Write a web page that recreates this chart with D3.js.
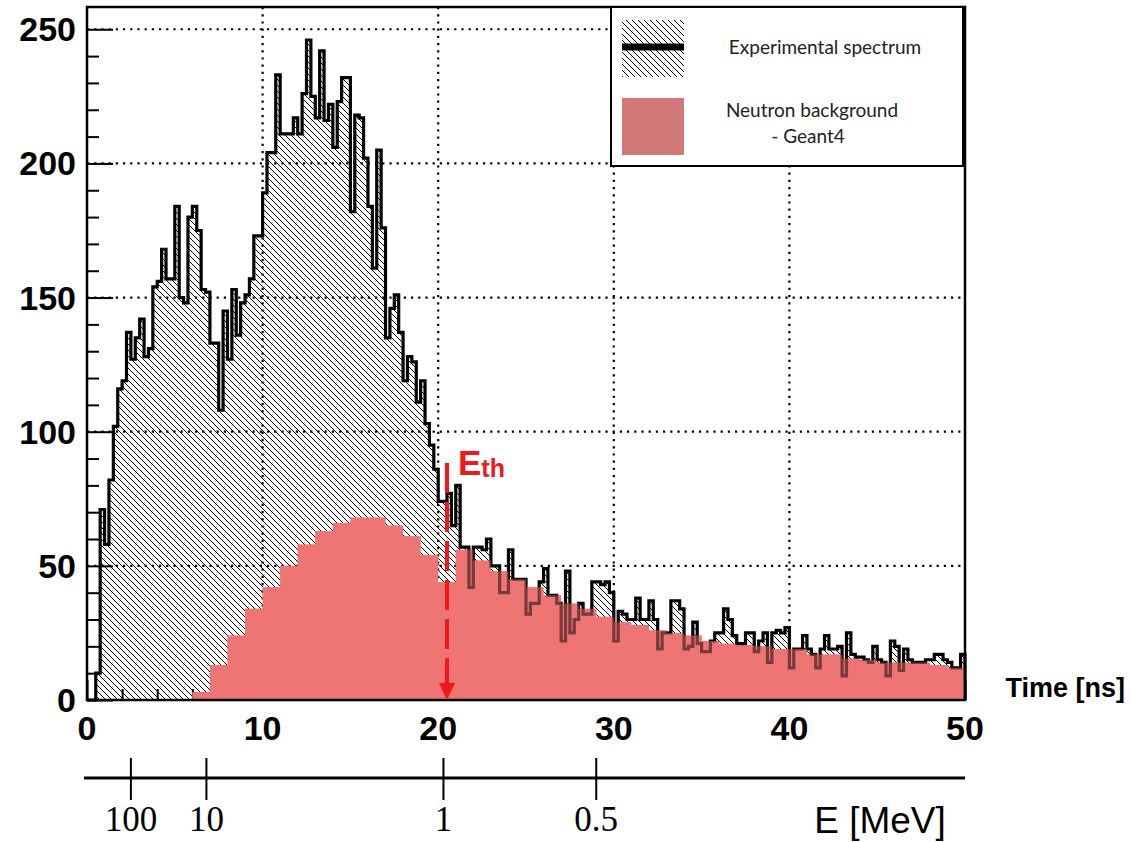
<!DOCTYPE html>
<html>
<head>
<meta charset="utf-8">
<script src="https://cdn.jsdelivr.net/npm/d3@7"></script>
<style>
  body { margin: 0; background: #fff; }
  svg { display: block; }
</style>
</head>
<body>
<svg id="chart" width="1131" height="842"></svg>
<script>
// experimental spectrum, 0.25 ns bins starting at 0 ns
var expWidth = 0.25;
var expCounts = [
  0, 0, 10, 71, 58, 82, 102, 116, 119, 137, 127, 135, 142, 128, 131, 154, 156,
  168, 157, 157, 184, 150, 148, 180, 184, 175, 153, 152, 133, 133, 108, 145, 127, 153, 136, 148, 151, 157,
  173, 173, 189, 204, 204, 233, 211, 211, 211, 217, 211, 226, 246, 225, 217, 242, 216, 222, 206, 223,
  232, 232, 182, 218, 217, 202, 184, 161, 205, 176, 135, 146, 151, 137, 119, 128, 126, 111, 119, 103, 95, 86, 74,
  74, 77, 65, 80, 57, 57, 42, 57, 57, 56, 60, 50, 50, 40, 40, 56, 45, 45, 45, 32, 36, 36, 44, 49, 39,
  39, 36, 22, 48, 25, 30, 36, 32, 32, 44, 44, 43,
  44, 40, 22, 33, 32, 30, 30, 38, 30, 30, 37, 30, 19, 25, 25, 37, 37, 34, 19, 20, 29, 21, 18, 18, 22,
  25, 25, 34, 30, 24, 21, 21, 25, 25, 18, 22, 25, 14, 25, 26, 25,
  27, 12, 19, 19, 24, 19, 17, 12, 19, 24, 19, 19, 20, 9, 25, 17, 16, 16, 15, 14, 20, 15, 14, 9, 22,
  20, 11, 19, 15, 14, 14, 14, 15, 15, 17, 17, 15, 14, 12, 12, 17
];

// Geant4 neutron background, 1 ns bins starting at 6 ns
var bkgStart = 6;
var bkgWidth = 1;
var bkgCounts = [
  3, 13, 24, 34, 42, 50, 58, 63, 66, 68, 68, 65, 61, 54,
  44, 56, 52, 48, 45, 42, 39, 36, 34, 31,
  29, 28, 26, 25, 24, 22, 21, 20.5, 20, 19,
  19, 17, 17, 15.5, 15, 14, 14, 14, 13, 12
];

var yTicks = [0, 50, 100, 150, 200, 250];
var xTicks = [0, 10, 20, 30, 40, 50];
// energy axis: tick label and its time of flight
var eLabels = ["100", "10", "1", "0.5"];
var eTimes = [2.5, 6.8, 20.3, 29.0];
var eth = 20.5;

var svg = d3.select("#chart");

var yMax = 1.05 * d3.max(expCounts);
var x = d3.scaleLinear().domain([0, 50]).range([87, 965]);
var y = d3.scaleLinear().domain([0, yMax]).range([700, 7]);

function stepPoints(counts, start, width) {
    var pts = [[start, 0]];
    counts.forEach(function(c, i) {
        pts.push([start + i * width, c]);
        pts.push([start + (i + 1) * width, c]);
    });
    pts.push([start + counts.length * width, 0]);
    return pts;
}

var line = d3.line().x(d => x(d[0])).y(d => y(d[1]));
var expPath = line(stepPoints(expCounts, 0, expWidth));
var bkgPath = line(stepPoints(bkgCounts, bkgStart, bkgWidth));

var defs = svg.append("defs");
var hatch = defs.append("pattern")
    .attr("id", "hatch")
    .attr("patternUnits", "userSpaceOnUse")
    .attr("width", 6).attr("height", 6);
hatch.append("path")
    .attr("d", "M0,0 L6,6 M-1,5 L1,7 M5,-1 L7,1")
    .attr("stroke", "#000")
    .attr("stroke-width", 1);

var redFill = "#ef7474";

// hatched experimental area
svg.append("path")
    .attr("d", expPath)
    .attr("fill", "url(#hatch)");

// dotted grid
svg.append("g").selectAll("line").data(xTicks.slice(1, -1)).join("line")
    .attr("x1", d => x(d)).attr("x2", d => x(d))
    .attr("y1", y(yMax)).attr("y2", y(0))
    .attr("stroke", "#000").attr("stroke-width", 2.2)
    .attr("stroke-dasharray", "2.2,5");
svg.append("g").selectAll("line").data(yTicks.slice(1)).join("line")
    .attr("x1", x(0)).attr("x2", x(50))
    .attr("y1", d => y(d)).attr("y2", d => y(d))
    .attr("stroke", "#000").attr("stroke-width", 2.2)
    .attr("stroke-dasharray", "2.2,5");

// axis ticks (inside the frame)
var yAxis = d3.axisRight(y).tickValues(d3.range(0, 251, 10))
    .tickSize(0).tickFormat("");
var gy = svg.append("g").attr("transform", "translate(" + x(0) + ",0)").call(yAxis);
gy.select(".domain").remove();
gy.selectAll(".tick line")
    .attr("x2", d => d % 50 == 0 ? 26 : 12)
    .attr("stroke", "#000").attr("stroke-width", 2);

var xAxis = d3.axisTop(x).tickValues(d3.range(0, 51, 2))
    .tickSize(0).tickFormat("");
var gx = svg.append("g").attr("transform", "translate(0," + y(0) + ")").call(xAxis);
gx.select(".domain").remove();
gx.selectAll(".tick line")
    .attr("y2", d => d % 10 == 0 ? -20 : -11)
    .attr("stroke", "#000").attr("stroke-width", 2);

// background histogram, then experimental outline, then a translucent red veil
svg.append("path").attr("d", bkgPath).attr("fill", redFill);
svg.append("path")
    .attr("d", expPath)
    .attr("fill", "none")
    .attr("stroke", "#000")
    .attr("stroke-width", 3.2)
    .attr("stroke-linejoin", "miter");
svg.append("path").attr("d", bkgPath).attr("fill", redFill).attr("opacity", 0.5);

// frame
svg.append("rect")
    .attr("x", x(0)).attr("y", y(yMax))
    .attr("width", x(50) - x(0)).attr("height", y(0) - y(yMax))
    .attr("fill", "none").attr("stroke", "#000").attr("stroke-width", 2.5);

// threshold marker
var red = "#f01818";
svg.append("line")
    .attr("x1", x(eth)).attr("x2", x(eth))
    .attr("y1", 463).attr("y2", 684)
    .attr("stroke", red).attr("stroke-width", 4)
    .attr("stroke-dasharray", "30,9");
svg.append("path")
    .attr("d", "M" + (x(eth) - 8) + ",683 L" + (x(eth) + 8) + ",683 L" + x(eth) + "," + y(0) + "Z")
    .attr("fill", red);
var ethText = svg.append("text")
    .attr("x", x(eth) + 11).attr("y", 475)
    .attr("font-family", "Liberation Sans, Arial, sans-serif")
    .attr("font-weight", "bold")
    .attr("fill", red);
ethText.append("tspan").attr("font-size", 35).text("E");
ethText.append("tspan").attr("font-size", 25).attr("dy", 2).text("th");

// tick labels
var labelFont = "Liberation Sans, Arial, sans-serif";
svg.append("g").selectAll("text").data(yTicks).join("text")
    .attr("x", 76).attr("y", d => y(d) + 12)
    .attr("text-anchor", "end")
    .attr("font-family", labelFont).attr("font-weight", "bold")
    .attr("font-size", 34)
    .text(d => d);
svg.append("g").selectAll("text").data(xTicks).join("text")
    .attr("x", d => x(d)).attr("y", 740)
    .attr("text-anchor", "middle")
    .attr("font-family", labelFont).attr("font-weight", "bold")
    .attr("font-size", 34)
    .text(d => d);
svg.append("text")
    .attr("x", 1125).attr("y", 697)
    .attr("text-anchor", "end")
    .attr("font-family", labelFont).attr("font-weight", "bold")
    .attr("font-size", 27)
    .text("Time [ns]");

// energy axis
svg.append("line")
    .attr("x1", 84).attr("x2", x(50))
    .attr("y1", 778).attr("y2", 778)
    .attr("stroke", "#000").attr("stroke-width", 3);
svg.append("g").selectAll("line").data(eTimes).join("line")
    .attr("x1", d => x(d)).attr("x2", d => x(d))
    .attr("y1", 758).attr("y2", 800)
    .attr("stroke", "#000").attr("stroke-width", 2);
svg.append("g").selectAll("text").data(eTimes).join("text")
    .attr("x", d => x(d)).attr("y", 831)
    .attr("text-anchor", "middle")
    .attr("font-family", "Liberation Serif, Times New Roman, serif")
    .attr("font-size", 35)
    .text((d, i) => eLabels[i]);
svg.append("text")
    .attr("x", 880).attr("y", 833)
    .attr("text-anchor", "middle")
    .attr("font-family", labelFont)
    .attr("font-size", 37)
    .text("E [MeV]");

// legend
var lg = svg.append("g");
lg.append("rect")
    .attr("x", 611).attr("y", 7).attr("width", 352).attr("height", 159)
    .attr("fill", "#fff").attr("stroke", "#000").attr("stroke-width", 2);
lg.append("rect")
    .attr("x", 622).attr("y", 20).attr("width", 62).attr("height", 57)
    .attr("fill", "url(#hatch)");
lg.append("line")
    .attr("x1", 622).attr("x2", 684).attr("y1", 47).attr("y2", 47)
    .attr("stroke", "#000").attr("stroke-width", 7);
lg.append("rect")
    .attr("x", 622).attr("y", 98).attr("width", 62).attr("height", 57)
    .attr("fill", "#d27a7a");
var legendFont = "Lato, Open Sans, sans-serif";
lg.append("text")
    .attr("x", 825).attr("y", 54)
    .attr("text-anchor", "middle")
    .attr("font-family", legendFont).attr("font-size", 19).attr("fill", "#222")
    .text("Experimental spectrum");
lg.append("text")
    .attr("x", 812).attr("y", 117)
    .attr("text-anchor", "middle")
    .attr("font-family", legendFont).attr("font-size", 19).attr("fill", "#222")
    .text("Neutron background");
lg.append("text")
    .attr("x", 808).attr("y", 143)
    .attr("text-anchor", "middle")
    .attr("font-family", legendFont).attr("font-size", 19).attr("fill", "#222")
    .text("- Geant4");
</script>
</body>
</html>
